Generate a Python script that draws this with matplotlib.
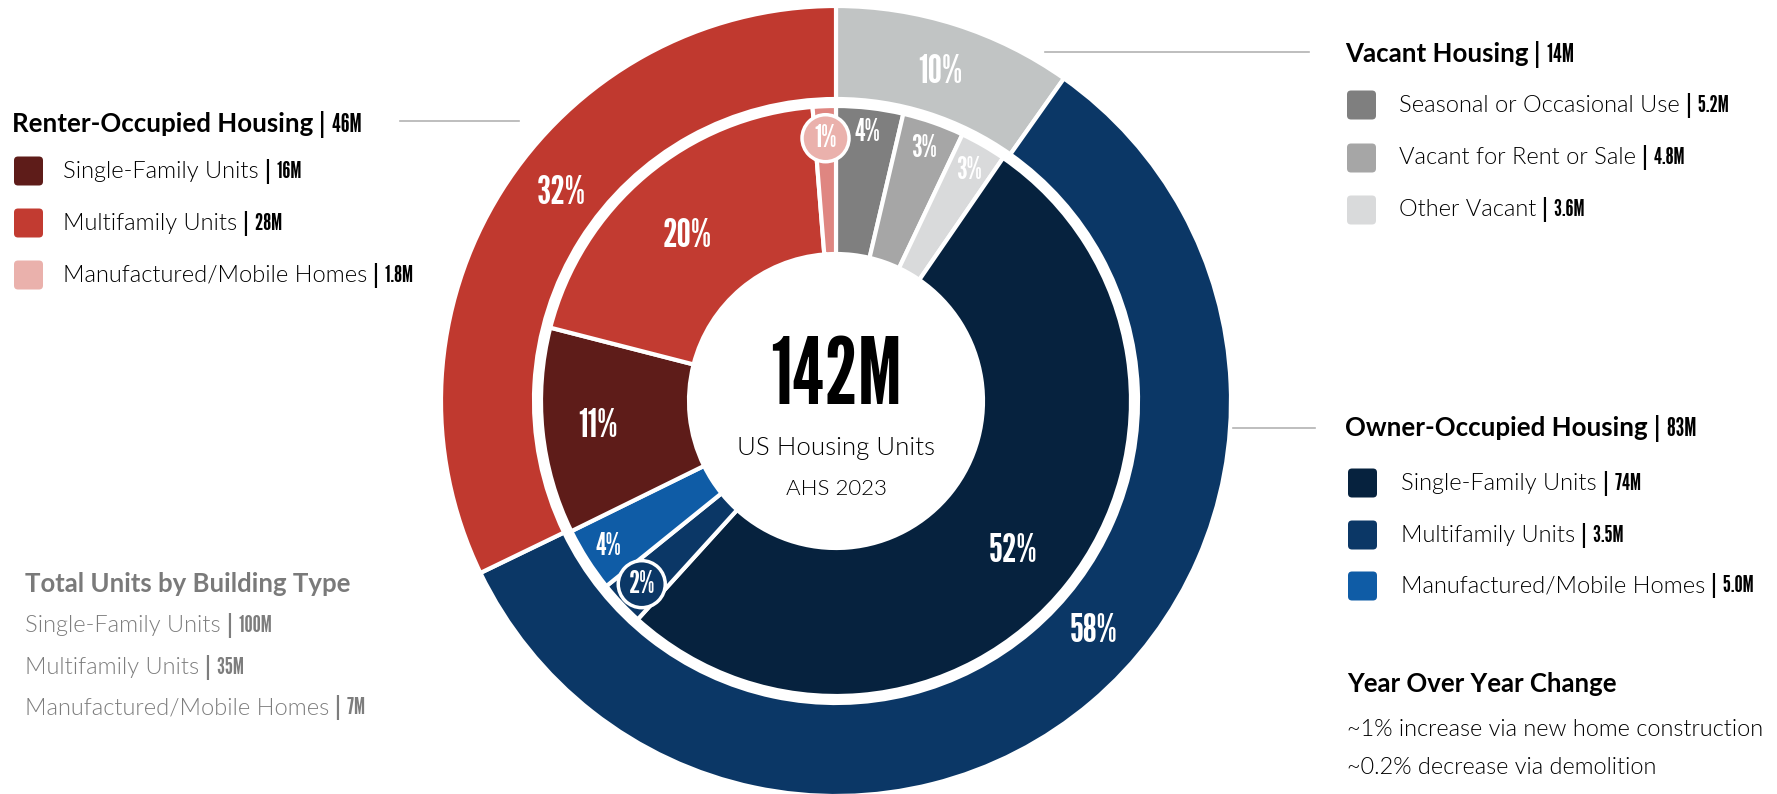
import matplotlib
matplotlib.use("Agg")
import matplotlib.pyplot as plt
from matplotlib.patches import FancyBboxPatch, Circle
import numpy as np

W, H = 1777, 794

# outer ring: housing groups (clockwise from top)
groups = ["Vacant Housing", "Owner-Occupied Housing", "Renter-Occupied Housing"]
group_units = [14, 83, 46]
group_text = ["14M", "83M", "46M"]
group_pct = ["10%", "58%", "32%"]
group_colors = ["#c1c4c4", "#0b3766", "#c0392f"]

# inner ring: building types inside each group
sub_labels = ["Seasonal or Occasional Use", "Vacant for Rent or Sale", "Other Vacant",
              "Single-Family Units", "Multifamily Units", "Manufactured/Mobile Homes",
              "Single-Family Units", "Multifamily Units", "Manufactured/Mobile Homes"]
sub_units = [5.2, 4.8, 3.6, 74, 3.5, 5.0, 16, 28, 1.8]
sub_text = ["5.2M", "4.8M", "3.6M", "74M", "3.5M", "5.0M", "16M", "28M", "1.8M"]
sub_pct = ["4%", "3%", "3%", "52%", "2%", "4%", "11%", "20%", "1%"]
sub_colors = ["#7f7f7f", "#a6a6a6", "#d9dadb",
              "#06223e", "#0b3766", "#0f5ca6",
              "#5e1c19", "#c23b31", "#df8681"]
swatch_colors = sub_colors[:8] + ["#eab1ac"]

total_text = "142M"
total_types = ["Single-Family Units", "Multifamily Units", "Manufactured/Mobile Homes"]
total_type_text = ["100M", "35M", "7M"]
yoy = ["~1% increase via new home construction", "~0.2% decrease via demolition"]

COND = ["League Gothic", "Oswald", "DejaVu Sans"]
BODY = ["Lato", "DejaVu Sans"]

fig = plt.figure(figsize=(W / 100, H / 100), dpi=100)
ax = fig.add_axes([0, 0, 1, 1])

cx, cy = 836, H - 401
outer, _ = ax.pie(group_units, radius=395, center=(cx, cy), startangle=90, counterclock=False,
                  colors=group_colors, wedgeprops=dict(width=93, edgecolor="white", linewidth=3))
inner, _ = ax.pie(sub_units, radius=295, center=(cx, cy), startangle=90, counterclock=False,
                  colors=sub_colors, wedgeprops=dict(width=148, edgecolor="white", linewidth=3))

ax.set_xlim(0, W)
ax.set_ylim(0, H)
ax.set_aspect("equal")
ax.axis("off")


def at_angle(w, r, nudge=0):
    a = np.deg2rad((w.theta1 + w.theta2) / 2 + nudge)
    return cx + r * np.cos(a), cy + r * np.sin(a)


outer_r = [345, 345, 345]
outer_nudge = [0, 8, -5]
for w, p, r, n in zip(outer, group_pct, outer_r, outer_nudge):
    x, y = at_angle(w, r, n)
    ax.text(x, y, p, color="white", fontsize=29, family=COND, ha="center", va="center")

inner_r = [270, 268, 266, 232, 267, 270, 239, 222, 263]
inner_nudge = [0, 0, 0, -2, 0, 0, 0, 2, 0]
circled = {4: "#0b3766", 8: "#eab1ac"}
for i, (w, p, r, n) in enumerate(zip(inner, sub_pct, inner_r, inner_nudge)):
    x, y = at_angle(w, r, n)
    big = len(p) > 2
    if i in circled:
        ax.add_patch(Circle((x, y), 23.5, fc=circled[i], ec="white", lw=2.5, zorder=3))
    ax.text(x, y, p, color="white", fontsize=29 if big else 22, family=COND,
            ha="center", va="center", zorder=4)

# centre text
ax.text(cx, H - 379, total_text, fontsize=66, family=COND, ha="center", va="center")
ax.text(cx, H - 448, "US Housing Units", fontsize=18.6, family=BODY, fontweight=300,
        ha="center", va="center")
ax.text(cx, H - 489, "AHS 2023", fontsize=16, family=BODY, fontweight=300,
        ha="center", va="center")


def rich(x, y, main, tail, size, tail_size, color="black", weight=300):
    t = ax.text(x, H - y, main, fontsize=size, fontweight=weight, family=BODY, color=color,
                ha="left", va="center")
    ax.annotate("|  " + tail, xy=(1, 0.5), xycoords=t, xytext=(5, 0), textcoords="offset points",
                fontsize=tail_size, family=COND, color=color, ha="left", va="center")


def swatch(x, y, c):
    ax.add_patch(FancyBboxPatch((x, H - y - 14.5), 29, 29, boxstyle="round,pad=0,rounding_size=4",
                                fc=c, ec="none"))


def leader(x0, x1, y):
    ax.plot([x0, x1], [H - y, H - y], color="#b3b3b3", lw=1.2)


# renter legend (left)
rich(12, 124, groups[2], group_text[2], 18.6, 18, weight="bold")
leader(400, 519, 121)
for k, row_y in zip(range(6, 9), [171, 223, 275]):
    swatch(14, row_y, swatch_colors[k])
    rich(63, row_y, sub_labels[k], sub_text[k], 17, 16.5)

# vacant legend (top right)
rich(1345, 54, groups[0], group_text[0], 18.6, 18, weight="bold")
leader(1045, 1309, 52)
for k, row_y in zip(range(0, 3), [105, 158, 210]):
    swatch(1347, row_y, swatch_colors[k])
    rich(1399, row_y, sub_labels[k], sub_text[k], 17, 16.5)

# owner legend (right)
rich(1345, 428, groups[1], group_text[1], 18.6, 18, weight="bold")
leader(1233, 1315, 428)
for k, row_y in zip(range(3, 6), [483, 535, 586]):
    swatch(1348, row_y, swatch_colors[k])
    rich(1401, row_y, sub_labels[k], sub_text[k], 17, 16.5)

# totals by building type (bottom left, grey)
ax.text(25, H - 584, "Total Units by Building Type", fontsize=18.5, fontweight="bold", family=BODY,
        color="#7a7a7a", ha="left", va="center")
for lab, val, row_y in zip(total_types, total_type_text, [626, 667, 708]):
    rich(25, row_y, lab, val, 17, 16.5, color="#7d7d7d")

# year over year
ax.text(1347, H - 684, "Year Over Year Change", fontsize=18.5, fontweight="bold", family=BODY,
        ha="left", va="center")
for line, row_y in zip(yoy, [729, 768]):
    ax.text(1347, H - row_y, line, fontsize=16.9, fontweight=300, family=BODY, ha="left", va="center")

fig.savefig("out.png", dpi=100)
